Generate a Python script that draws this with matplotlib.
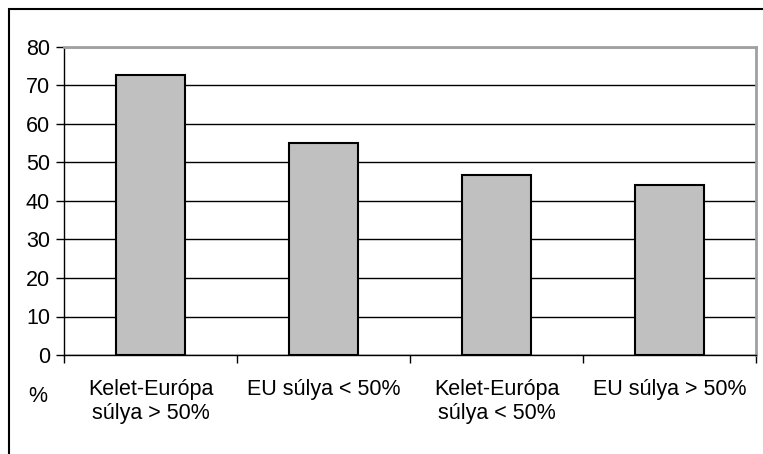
import matplotlib.pyplot as plt
from matplotlib.patches import Rectangle

categories = ['Kelet-Európa\nsúlya > 50%', 'EU súlya < 50%', 'Kelet-Európa\nsúlya < 50%', 'EU súlya > 50%']
values = [72.6, 55.0, 46.8, 44.2]
yticks = [0, 10, 20, 30, 40, 50, 60, 70, 80]

plt.rcParams['font.family'] = ['Liberation Sans', 'DejaVu Sans']

fig = plt.figure(figsize=(7.63, 4.54), dpi=100)
ax = fig.add_axes([64 / 763, 99 / 454, 692 / 763, 308 / 454])

x = range(len(categories))
ax.bar(x, values, width=0.4, color='#c0c0c0', edgecolor='black', linewidth=1.5, zorder=3)

ax.set_xlim(-0.5, len(categories) - 0.5)
ax.set_ylim(0, 80)
ax.set_yticks(yticks)
ax.yaxis.grid(True, color='black', linewidth=1, zorder=0)

# ticks sit on category boundaries, labels in between
ax.set_xticks([i - 0.5 for i in range(len(categories) + 1)])
ax.set_xticklabels([])
ax.set_xticks(list(x), minor=True)
ax.set_xticklabels(categories, minor=True, fontsize=15.5, linespacing=1.2, va='top')
ax.tick_params(axis='x', which='minor', length=0, pad=17)
ax.tick_params(axis='x', which='major', length=6, width=1, direction='out')
ax.tick_params(axis='y', length=6, width=1, pad=4, labelsize=15.5)

for side in ['top', 'right']:
    ax.spines[side].set_color('#a0a0a0')
    ax.spines[side].set_linewidth(2)
for side in ['left', 'bottom']:
    ax.spines[side].set_color('black')
    ax.spines[side].set_linewidth(1)

fig.text(38 / 763, 1 - 397 / 454, '%', fontsize=15.5, ha='center', va='center')

# outer chart border (only left and top are inside the picture)
fig.patches.append(Rectangle((8.5 / 763, -0.1), 1.2, 1 - 9.5 / 454 + 0.1, transform=fig.transFigure,
                             fill=False, edgecolor='black', linewidth=1.5))

plt.savefig('out.png', dpi=100)
